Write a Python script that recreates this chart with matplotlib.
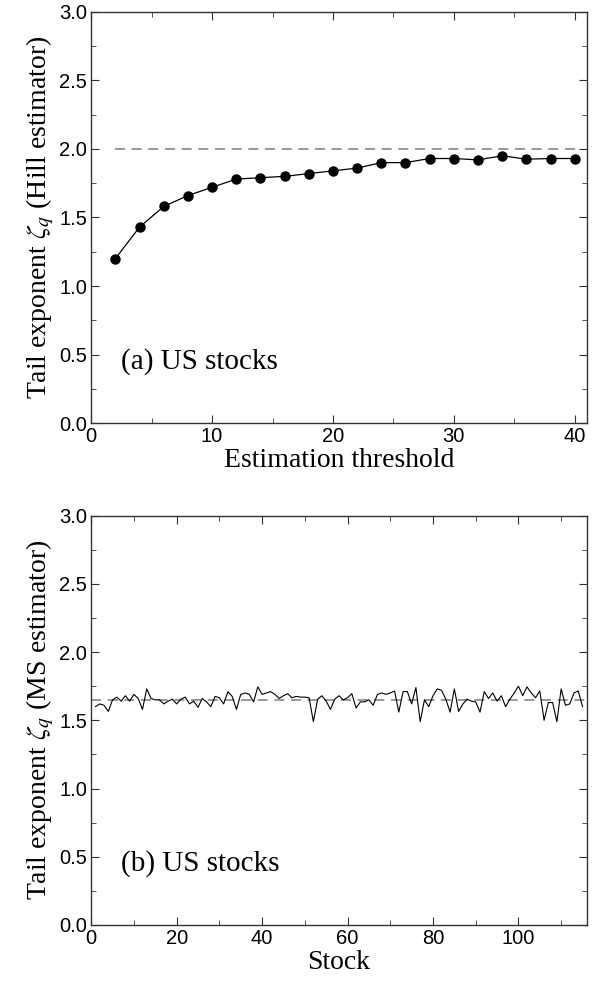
import numpy as np
import matplotlib.pyplot as plt
from matplotlib.ticker import MultipleLocator

plt.rcParams['mathtext.fontset'] = 'stix'

# (a) Hill estimator vs estimation threshold
threshold = [2, 4, 6, 8, 10, 12, 14, 16, 18, 20, 22, 24, 26, 28, 30, 32, 34, 36, 38, 40]
hill = [1.20, 1.43, 1.58, 1.66, 1.72, 1.78, 1.79, 1.80, 1.82, 1.84,
        1.86, 1.90, 1.90, 1.93, 1.93, 1.92, 1.95, 1.925, 1.93, 1.93]
hill_err = [0.004, 0.005, 0.006, 0.007, 0.008, 0.009, 0.010, 0.011, 0.012, 0.013,
            0.014, 0.016, 0.017, 0.018, 0.019, 0.020, 0.021, 0.022, 0.023, 0.024]
hill_ref = 2.0

# (b) MS estimator per stock
ms = [1.60, 1.62, 1.61, 1.565, 1.65, 1.67, 1.64, 1.68, 1.64, 1.69, 1.66,
      1.58, 1.73, 1.66, 1.65, 1.65, 1.62, 1.64, 1.655, 1.62, 1.655, 1.67,
      1.62, 1.64, 1.595, 1.66, 1.635, 1.60, 1.675, 1.665, 1.62, 1.71, 1.675,
      1.58, 1.69, 1.70, 1.69, 1.635, 1.745, 1.69, 1.70, 1.71, 1.69, 1.66,
      1.68, 1.695, 1.665, 1.675, 1.67, 1.67, 1.665, 1.49, 1.655, 1.68, 1.64,
      1.58, 1.655, 1.68,
      1.65, 1.665, 1.695, 1.59, 1.635, 1.635, 1.65, 1.61, 1.69, 1.70, 1.69,
      1.70, 1.715, 1.56, 1.71, 1.71, 1.62, 1.74, 1.49, 1.65, 1.60, 1.68,
      1.73, 1.72, 1.655, 1.56, 1.73, 1.565, 1.62, 1.655, 1.64, 1.635, 1.56,
      1.71, 1.66, 1.70, 1.64, 1.68, 1.60, 1.655, 1.70, 1.75, 1.68, 1.745,
      1.70, 1.665, 1.715, 1.50, 1.63, 1.63, 1.49, 1.73, 1.61, 1.62, 1.70,
      1.715, 1.60]
stock = np.arange(1, len(ms) + 1)
ms_ref = 1.65

serif = ['Liberation Serif', 'DejaVu Serif']
sans = ['Liberation Sans', 'DejaVu Sans']

fig = plt.figure(figsize=(6, 9.84), dpi=100)
ax1 = fig.add_axes([0.152, 0.570, 0.826, 0.418])
ax2 = fig.add_axes([0.152, 0.060, 0.826, 0.416])


def style(ax):
    for s in ax.spines.values():
        s.set_color('#333333')
        s.set_linewidth(1.0)
    ax.tick_params(which='both', direction='in', top=True, right=True,
                   labelsize=14.5, colors='#333333', labelcolor='black')
    ax.tick_params(which='major', length=6, pad=3)
    ax.tick_params(which='minor', length=3.5)
    for lab in ax.get_xticklabels() + ax.get_yticklabels():
        lab.set_family(sans)
    ax.set_ylim(0, 3.0)
    ax.yaxis.set_major_locator(MultipleLocator(0.5))
    ax.yaxis.set_minor_locator(MultipleLocator(0.25))
    ax.yaxis.set_major_formatter(plt.FormatStrFormatter('%.1f'))


ax1.plot([threshold[0], threshold[-1]], [hill_ref, hill_ref], ls=(0, (6, 4)),
         color='#888888', lw=1.2)
ax1.errorbar(threshold, hill, yerr=hill_err, fmt='o-', color='black',
             ms=6.5, lw=0.9, elinewidth=1.0, capsize=0)
ax1.set_xlim(0, 41)
ax1.xaxis.set_major_locator(MultipleLocator(10))
ax1.xaxis.set_minor_locator(MultipleLocator(5))
style(ax1)
ax1.set_xlabel('Estimation threshold', family=serif, fontsize=20, labelpad=1)
ax1.set_ylabel(r'Tail exponent $\zeta_q$ (Hill estimator)', family=serif,
               fontsize=20, labelpad=2)
ax1.text(0.06, 0.15, '(a) US stocks', transform=ax1.transAxes, family=serif,
         fontsize=21, va='center')

ax2.plot([0, 116], [ms_ref, ms_ref], ls=(0, (6, 4)), color='#888888', lw=1.2)
ax2.plot(stock, ms, color='black', lw=0.8)
ax2.set_xlim(0, 116)
ax2.xaxis.set_major_locator(MultipleLocator(20))
ax2.xaxis.set_minor_locator(MultipleLocator(10))
style(ax2)
ax2.set_xlabel('Stock', family=serif, fontsize=20, labelpad=1)
ax2.set_ylabel(r'Tail exponent $\zeta_q$ (MS estimator)', family=serif,
               fontsize=20, labelpad=2)
ax2.text(0.06, 0.15, '(b) US stocks', transform=ax2.transAxes, family=serif,
         fontsize=21, va='center')

fig.savefig('out.png', dpi=100)
